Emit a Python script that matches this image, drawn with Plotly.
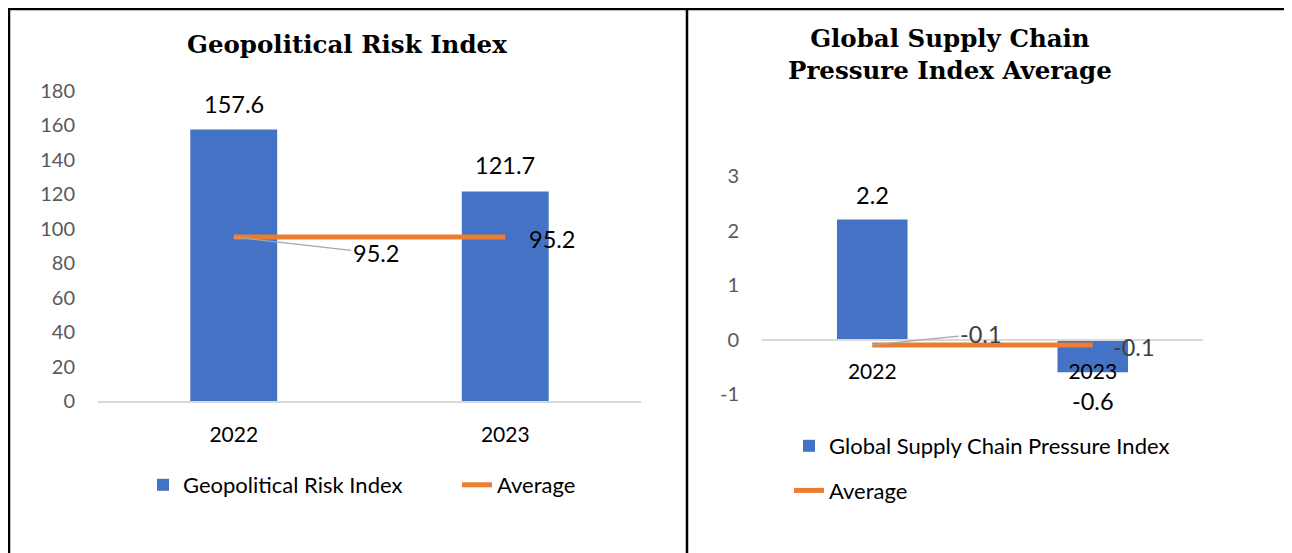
import plotly.graph_objects as go

# ---------------- data ----------------
years = ["2022", "2023"]
gpr_values = [157.6, 121.7]
gpr_average = [95.2, 95.2]
gscpi_values = [2.2, -0.6]
gscpi_average = [-0.1, -0.1]
gpr_ticks = [0, 20, 40, 60, 80, 100, 120, 140, 160, 180]
gscpi_ticks = [-1, 0, 1, 2, 3]

# category positions on the x axes
xpos = list(range(len(years)))

# ---------------- layout helpers ----------------
W, H = 1292, 553
OFF = 8  # the page body margin places the figure 8px in from the window corner


def px_x(p):
    return (p - OFF) / W


def px_y(p):
    return 1 - (p - OFF) / H


BLUE = "#4472C4"
ORANGE = "#ED7D31"
AXIS_GREY = "#D9D9D9"
TICK_GREY = "#595959"
SANS = "Lato"
SERIF = "DejaVu Serif"

fig = go.Figure()

fig.add_trace(go.Bar(x=xpos, y=gpr_values, name="Geopolitical Risk Index",
                     marker=dict(color=BLUE, line=dict(width=0)), width=0.32,
                     xaxis="x", yaxis="y", legend="legend"))
fig.add_trace(go.Scatter(x=xpos, y=gpr_average, name="Average", mode="lines",
                         line=dict(color=ORANGE, width=5),
                         xaxis="x", yaxis="y", legend="legend"))
fig.add_trace(go.Bar(x=xpos, y=gscpi_values, name="Global Supply Chain Pressure Index",
                     marker=dict(color=BLUE, line=dict(width=0)), width=0.32,
                     xaxis="x2", yaxis="y2", legend="legend2", legendgroup="g1"))
fig.add_trace(go.Scatter(x=xpos, y=gscpi_average, name="Average", mode="lines",
                         line=dict(color=ORANGE, width=5),
                         xaxis="x2", yaxis="y2", legend="legend2", legendgroup="g2"))

y1_dom = [px_y(401), px_y(91)]
y2_dom = [px_y(394), px_y(176)]
y2_rng = [-1, 3]
zero_pos = y2_dom[0] + (0 - y2_rng[0]) / (y2_rng[1] - y2_rng[0]) * (y2_dom[1] - y2_dom[0])

xaxis_common = dict(range=[-0.5, len(years) - 0.5], tickvals=xpos, ticktext=years,
                    showgrid=False, zeroline=False, showline=True,
                    linecolor=AXIS_GREY, linewidth=1.5, ticks="", automargin=False,
                    tickfont=dict(family=SANS, size=21, color="#000000"),
                    ticklabelstandoff=14, fixedrange=True)
yaxis_common = dict(showgrid=False, zeroline=False, showline=False, ticks="", automargin=False,
                    tickfont=dict(family=SANS, size=20, color=TICK_GREY),
                    ticklabelstandoff=22, fixedrange=True)

fig.update_layout(
    template="none",
    width=W, height=H, autosize=False,
    margin=dict(l=0, r=0, t=0, b=0, pad=0, autoexpand=False),
    paper_bgcolor="white", plot_bgcolor="white",
    xaxis=dict(domain=[px_x(98), px_x(641)], anchor="y", **xaxis_common),
    yaxis=dict(domain=y1_dom, range=[0, 180], tickvals=gpr_ticks,
               ticktext=[str(t) for t in gpr_ticks], anchor="x", **yaxis_common),
    xaxis2=dict(domain=[px_x(762), px_x(1203)], anchor="free", position=zero_pos, **xaxis_common),
    yaxis2=dict(domain=y2_dom, range=y2_rng, tickvals=gscpi_ticks,
                ticktext=[str(t) for t in gscpi_ticks], anchor="x2", **yaxis_common),
    legend=dict(orientation="h", x=px_x(143), y=px_y(485), xanchor="left", yanchor="middle",
                font=dict(family=SANS, size=22, color="#000000"),
                bgcolor="rgba(0,0,0,0)", borderwidth=0, entrywidth=269, entrywidthmode="pixels"),
    legend2=dict(orientation="v", x=px_x(789), y=px_y(468.5), xanchor="left", yanchor="middle",
                 font=dict(family=SANS, size=22, color="#000000"),
                 bgcolor="rgba(0,0,0,0)", borderwidth=0, tracegroupgap=13, traceorder="grouped"),
    showlegend=True,
)

TITLE_FONT = dict(family=SERIF, size=24.5, color="#000000", weight="bold")
annotations = [
    dict(text="Geopolitical Risk Index", xref="paper", yref="paper", x=px_x(347), y=px_y(45),
         xanchor="center", yanchor="middle", showarrow=False, font=TITLE_FONT),
    dict(text="Global Supply Chain<br>Pressure Index Average", xref="paper", yref="paper",
         x=px_x(950), y=px_y(55), xanchor="center", yanchor="middle", showarrow=False,
         font=TITLE_FONT),
]

LBL = 23.5
# bar data labels, left
for xp, v in zip(xpos, gpr_values):
    annotations.append(dict(text=f"{v:.1f}", x=xp, y=v, xref="x", yref="y", showarrow=False,
                            yshift=26, font=dict(family=SANS, size=LBL, color="#000000")))
# average labels, left
annotations.append(dict(text=f"{gpr_average[0]:.1f}", x=xpos[0], y=gpr_average[0], xref="x", yref="y",
                        showarrow=True, arrowhead=0, arrowwidth=1.2, arrowcolor="#A6A6A6",
                        ax=142, ay=16, standoff=0,
                        font=dict(family=SANS, size=LBL, color="#000000")))
annotations.append(dict(text=f"{gpr_average[1]:.1f}", x=xpos[1], y=gpr_average[1], xref="x", yref="y",
                        showarrow=False, xshift=47, yshift=-2,
                        font=dict(family=SANS, size=LBL, color="#000000")))
# bar data labels, right
for xp, v in zip(xpos, gscpi_values):
    annotations.append(dict(text=f"{v:.1f}", x=xp, y=v, xref="x2", yref="y2", showarrow=False,
                            yshift=25 if v >= 0 else -29,
                            font=dict(family=SANS, size=LBL, color="#000000")))
annotations.append(dict(text=f"{gscpi_average[0]:.1f}", x=xpos[0], y=gscpi_average[0], xref="x2", yref="y2",
                        showarrow=True, arrowhead=0, arrowwidth=1.2, arrowcolor="#A6A6A6",
                        ax=109, ay=-11, standoff=0,
                        font=dict(family=SANS, size=LBL, color="#404040")))
annotations.append(dict(text=f"{gscpi_average[1]:.1f}", x=xpos[1], y=gscpi_average[1], xref="x2", yref="y2",
                        showarrow=False, xshift=41, yshift=-2,
                        font=dict(family=SANS, size=LBL, color="#404040")))

# panel frame lines (in figure pixels converted to paper fractions)
top_y = 1 - 1.0 / H
shapes = [
    dict(type="line", xref="paper", yref="paper", x0=0, x1=1, y0=top_y, y1=top_y,
         line=dict(color="#000000", width=2.5)),
    dict(type="line", xref="paper", yref="paper", x0=1.0 / W, x1=1.0 / W, y0=0, y1=top_y,
         line=dict(color="#000000", width=2.5)),
    dict(type="line", xref="paper", yref="paper", x0=px_x(687), x1=px_x(687), y0=0, y1=top_y,
         line=dict(color="#000000", width=2.5)),
]

fig.update_layout(annotations=annotations, shapes=shapes)
fig.write_html("out.html")
